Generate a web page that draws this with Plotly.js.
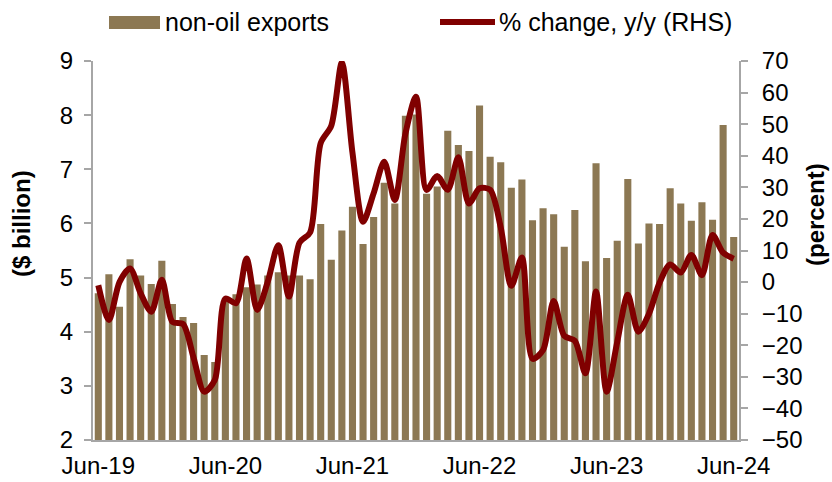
<!DOCTYPE html>
<html>
<head>
<meta charset="utf-8">
<script src="https://cdn.plot.ly/plotly-3.0.1.min.js"></script>
<style>html,body{margin:0;padding:0;background:#fff;}#chart{width:832px;height:482px;}</style>
</head>
<body>
<div id="chart"></div>
<script>
const months = ["Jun-19","Jul-19","Aug-19","Sep-19","Oct-19","Nov-19","Dec-19",
"Jan-20","Feb-20","Mar-20","Apr-20","May-20","Jun-20","Jul-20","Aug-20","Sep-20","Oct-20","Nov-20","Dec-20",
"Jan-21","Feb-21","Mar-21","Apr-21","May-21","Jun-21","Jul-21","Aug-21","Sep-21","Oct-21","Nov-21","Dec-21",
"Jan-22","Feb-22","Mar-22","Apr-22","May-22","Jun-22","Jul-22","Aug-22","Sep-22","Oct-22","Nov-22","Dec-22",
"Jan-23","Feb-23","Mar-23","Apr-23","May-23","Jun-23","Jul-23","Aug-23","Sep-23","Oct-23","Nov-23","Dec-23",
"Jan-24","Feb-24","Mar-24","Apr-24","May-24","Jun-24"];

const nonOilExports = [4.71,5.06,4.46,5.34,5.04,4.88,5.31,
4.51,4.27,4.16,3.57,3.44,4.62,4.69,4.82,4.87,5.04,5.10,5.04,
5.04,4.97,5.99,5.33,5.87,6.31,5.62,6.12,6.75,6.37,7.99,8.01,
6.55,6.68,7.71,7.45,7.34,8.18,7.23,7.13,6.66,6.81,6.06,6.28,
6.17,5.57,6.25,5.30,7.11,5.36,5.68,6.82,5.63,6.00,5.99,6.65,
6.37,6.05,6.39,6.07,7.82,5.75];

const pctChangeYoY = [-1,-12,0,4.3,-3.6,-9.4,0.7,
-12.6,-13.3,-24,-34.7,-31,-5.2,-6.7,7.5,-8.8,0.1,11.7,-4.6,
12.5,15.7,44,49.5,69.5,41,19.1,28.1,38.1,26,47,58.7,
29.2,33.6,29.2,39.5,24.9,29.7,29.2,17.3,-1.2,7.8,-24.3,-21.5,
-6,-17,-18.6,-28.9,-3,-34.7,-19,-4,-15.7,-10,-0.2,5.6,
3,8.6,2.2,14.9,9.3,7.4];

const tickLabels = ["Jun-19","Jun-20","Jun-21","Jun-22","Jun-23","Jun-24"];
const seriesNames = ["non-oil exports", "% change, y/y (RHS)"];
const axisTitles = ["($ billion)", "(percent)"];

const barColor = "#8c7853";
const lineColor = "#800000";
const axisGray = "#a6a6a6";
const fontFam = "Liberation Sans, Arial, sans-serif";

const data = [
  {type:"bar", name:seriesNames[0], x:months, y:nonOilExports,
   marker:{color:barColor}, yaxis:"y", showlegend:false},
  {type:"scatter", mode:"lines", name:seriesNames[1], x:months, y:pctChangeYoY,
   line:{color:lineColor, width:6, shape:"spline", smoothing:0.8}, yaxis:"y2", showlegend:false}
];

// legend and axis titles placed in paper coordinates (plot area: x 93..739 px, y 61..440 px)
const px = v => (v - 93) / 646;
const py = v => (440 - v) / 379;

const layout = {
  width:832, height:482,
  margin:{l:93, r:93, t:61, b:42},
  paper_bgcolor:"#fff", plot_bgcolor:"#fff",
  font:{family:fontFam, color:"#000", size:24},
  bargap:0.33,
  showlegend:false,
  shapes:[
    {type:"rect", xref:"paper", yref:"paper", x0:px(109), x1:px(160), y0:py(29), y1:py(16),
     fillcolor:barColor, line:{width:0}},
    {type:"line", xref:"paper", yref:"paper", x0:px(440), x1:px(495), y0:py(22), y1:py(22),
     line:{color:lineColor, width:6}}
  ],
  annotations:[
    {xref:"paper", yref:"paper", x:px(163), y:py(22), xanchor:"left", yanchor:"middle",
     text:seriesNames[0], showarrow:false, font:{size:25}},
    {xref:"paper", yref:"paper", x:px(497), y:py(22), xanchor:"left", yanchor:"middle",
     text:seriesNames[1], showarrow:false, font:{size:25}},
    {xref:"paper", yref:"paper", x:px(22), y:py(224), xanchor:"center", yanchor:"middle",
     text:"<b>" + axisTitles[0] + "</b>", textangle:-90, showarrow:false, font:{size:24}},
    {xref:"paper", yref:"paper", x:px(816), y:py(215), xanchor:"center", yanchor:"middle",
     text:"<b>" + axisTitles[1] + "</b>", textangle:-90, showarrow:false, font:{size:24}}
  ],
  xaxis:{type:"category", range:[-0.5,60.5], tickmode:"array", tickvals:tickLabels, ticktext:tickLabels,
    showline:true, linecolor:axisGray, linewidth:2, ticks:"", showgrid:false, zeroline:false,
    tickfont:{size:24}, tickangle:0, ticklabelstandoff:3, fixedrange:true},
  yaxis:{range:[2,9], dtick:1, showline:true, linecolor:axisGray, linewidth:2,
    ticks:"outside", ticklen:7, tickcolor:axisGray, tickwidth:2, showgrid:false, zeroline:false,
    tickfont:{size:24}, ticklabelstandoff:6},
  yaxis2:{range:[-50,70], dtick:10, overlaying:"y", side:"right", showline:true, linecolor:axisGray, linewidth:2,
    ticks:"outside", ticklen:7, tickcolor:axisGray, tickwidth:2, showgrid:false, zeroline:false,
    tickfont:{size:24}, ticklabelstandoff:9}
};

Plotly.newPlot("chart", data, layout, {displayModeBar:false, staticPlot:true});
</script>
</body>
</html>
